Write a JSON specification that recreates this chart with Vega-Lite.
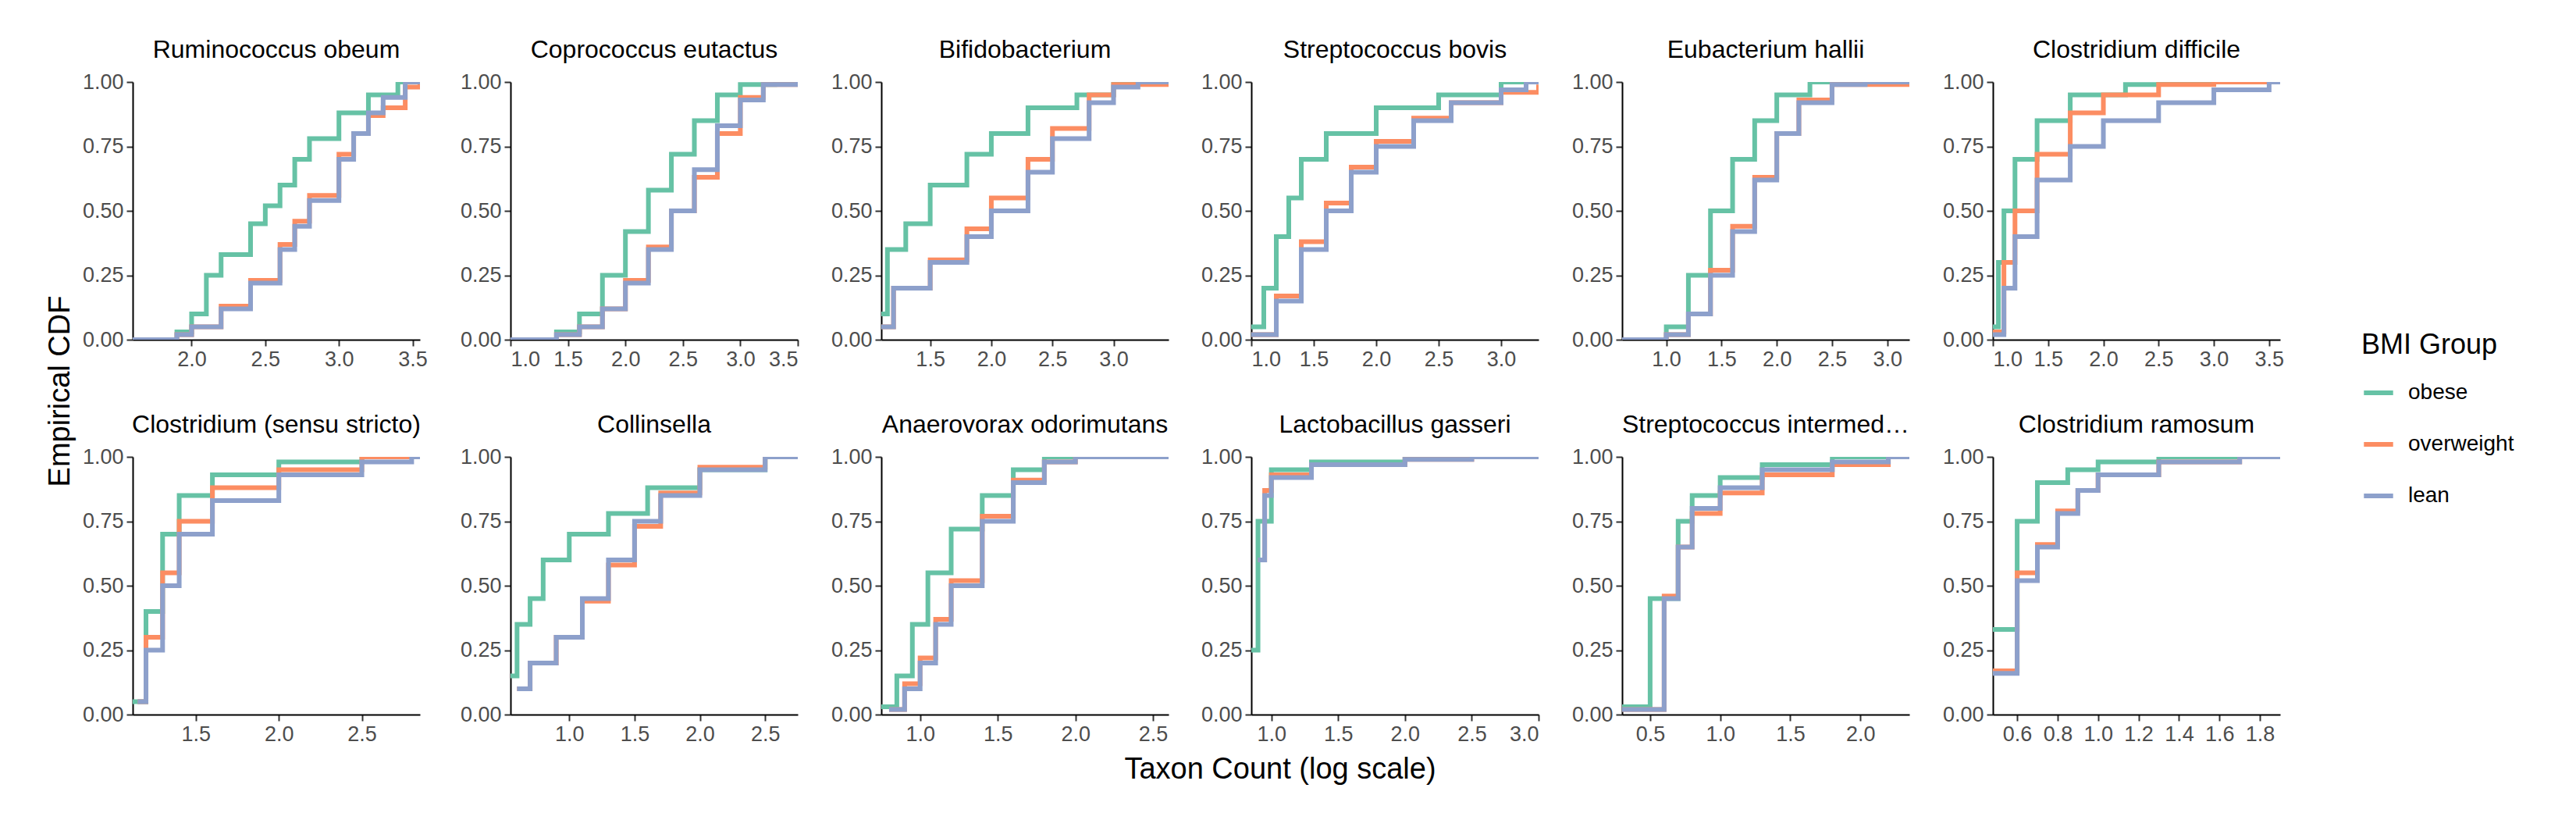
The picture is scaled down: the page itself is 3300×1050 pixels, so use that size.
{
  "$schema": "https://vega.github.io/schema/vega-lite/v6.json",
  "background": "white",
  "padding": {"left": 58, "top": 48, "right": 10, "bottom": 10},
  "title": {"text": "Taxon Count (log scale)", "orient": "bottom", "anchor": "middle", "fontSize": 38, "font": "Liberation Sans", "fontWeight": "normal", "color": "black", "offset": 14},
  "data": {"values": [
    {"p":"Ruminococcus obeum","g":"obese","x":1.6,"y":0},{"p":"Ruminococcus obeum","g":"obese","x":1.9,"y":0.03},{"p":"Ruminococcus obeum","g":"obese","x":2.0,"y":0.1},{"p":"Ruminococcus obeum","g":"obese","x":2.1,"y":0.25},{"p":"Ruminococcus obeum","g":"obese","x":2.2,"y":0.33},{"p":"Ruminococcus obeum","g":"obese","x":2.4,"y":0.45},{"p":"Ruminococcus obeum","g":"obese","x":2.5,"y":0.52},{"p":"Ruminococcus obeum","g":"obese","x":2.6,"y":0.6},{"p":"Ruminococcus obeum","g":"obese","x":2.7,"y":0.7},{"p":"Ruminococcus obeum","g":"obese","x":2.8,"y":0.78},{"p":"Ruminococcus obeum","g":"obese","x":3.0,"y":0.88},{"p":"Ruminococcus obeum","g":"obese","x":3.2,"y":0.95},{"p":"Ruminococcus obeum","g":"obese","x":3.4,"y":1},{"p":"Ruminococcus obeum","g":"obese","x":3.55,"y":1},
    {"p":"Ruminococcus obeum","g":"overweight","x":1.6,"y":0},{"p":"Ruminococcus obeum","g":"overweight","x":1.9,"y":0.02},{"p":"Ruminococcus obeum","g":"overweight","x":2.0,"y":0.05},{"p":"Ruminococcus obeum","g":"overweight","x":2.2,"y":0.13},{"p":"Ruminococcus obeum","g":"overweight","x":2.4,"y":0.23},{"p":"Ruminococcus obeum","g":"overweight","x":2.6,"y":0.37},{"p":"Ruminococcus obeum","g":"overweight","x":2.7,"y":0.46},{"p":"Ruminococcus obeum","g":"overweight","x":2.8,"y":0.56},{"p":"Ruminococcus obeum","g":"overweight","x":3.0,"y":0.72},{"p":"Ruminococcus obeum","g":"overweight","x":3.1,"y":0.8},{"p":"Ruminococcus obeum","g":"overweight","x":3.2,"y":0.87},{"p":"Ruminococcus obeum","g":"overweight","x":3.3,"y":0.9},{"p":"Ruminococcus obeum","g":"overweight","x":3.45,"y":0.98},{"p":"Ruminococcus obeum","g":"overweight","x":3.55,"y":1},
    {"p":"Ruminococcus obeum","g":"lean","x":1.6,"y":0},{"p":"Ruminococcus obeum","g":"lean","x":1.9,"y":0.02},{"p":"Ruminococcus obeum","g":"lean","x":2.0,"y":0.05},{"p":"Ruminococcus obeum","g":"lean","x":2.2,"y":0.12},{"p":"Ruminococcus obeum","g":"lean","x":2.4,"y":0.22},{"p":"Ruminococcus obeum","g":"lean","x":2.6,"y":0.35},{"p":"Ruminococcus obeum","g":"lean","x":2.7,"y":0.44},{"p":"Ruminococcus obeum","g":"lean","x":2.8,"y":0.54},{"p":"Ruminococcus obeum","g":"lean","x":3.0,"y":0.7},{"p":"Ruminococcus obeum","g":"lean","x":3.1,"y":0.8},{"p":"Ruminococcus obeum","g":"lean","x":3.2,"y":0.88},{"p":"Ruminococcus obeum","g":"lean","x":3.3,"y":0.94},{"p":"Ruminococcus obeum","g":"lean","x":3.45,"y":1},{"p":"Ruminococcus obeum","g":"lean","x":3.55,"y":1},

    {"p":"Coprococcus eutactus","g":"obese","x":1.0,"y":0},{"p":"Coprococcus eutactus","g":"obese","x":1.4,"y":0.03},{"p":"Coprococcus eutactus","g":"obese","x":1.6,"y":0.1},{"p":"Coprococcus eutactus","g":"obese","x":1.8,"y":0.25},{"p":"Coprococcus eutactus","g":"obese","x":2.0,"y":0.42},{"p":"Coprococcus eutactus","g":"obese","x":2.2,"y":0.58},{"p":"Coprococcus eutactus","g":"obese","x":2.4,"y":0.72},{"p":"Coprococcus eutactus","g":"obese","x":2.6,"y":0.85},{"p":"Coprococcus eutactus","g":"obese","x":2.8,"y":0.95},{"p":"Coprococcus eutactus","g":"obese","x":3.0,"y":0.99},{"p":"Coprococcus eutactus","g":"obese","x":3.3,"y":1},{"p":"Coprococcus eutactus","g":"obese","x":3.5,"y":1},
    {"p":"Coprococcus eutactus","g":"overweight","x":1.0,"y":0},{"p":"Coprococcus eutactus","g":"overweight","x":1.4,"y":0.02},{"p":"Coprococcus eutactus","g":"overweight","x":1.6,"y":0.05},{"p":"Coprococcus eutactus","g":"overweight","x":1.8,"y":0.12},{"p":"Coprococcus eutactus","g":"overweight","x":2.0,"y":0.23},{"p":"Coprococcus eutactus","g":"overweight","x":2.2,"y":0.36},{"p":"Coprococcus eutactus","g":"overweight","x":2.4,"y":0.5},{"p":"Coprococcus eutactus","g":"overweight","x":2.6,"y":0.63},{"p":"Coprococcus eutactus","g":"overweight","x":2.8,"y":0.8},{"p":"Coprococcus eutactus","g":"overweight","x":3.0,"y":0.94},{"p":"Coprococcus eutactus","g":"overweight","x":3.2,"y":0.99},{"p":"Coprococcus eutactus","g":"overweight","x":3.5,"y":1},
    {"p":"Coprococcus eutactus","g":"lean","x":1.0,"y":0},{"p":"Coprococcus eutactus","g":"lean","x":1.4,"y":0.02},{"p":"Coprococcus eutactus","g":"lean","x":1.6,"y":0.05},{"p":"Coprococcus eutactus","g":"lean","x":1.8,"y":0.12},{"p":"Coprococcus eutactus","g":"lean","x":2.0,"y":0.22},{"p":"Coprococcus eutactus","g":"lean","x":2.2,"y":0.35},{"p":"Coprococcus eutactus","g":"lean","x":2.4,"y":0.5},{"p":"Coprococcus eutactus","g":"lean","x":2.6,"y":0.66},{"p":"Coprococcus eutactus","g":"lean","x":2.8,"y":0.83},{"p":"Coprococcus eutactus","g":"lean","x":3.0,"y":0.93},{"p":"Coprococcus eutactus","g":"lean","x":3.2,"y":0.99},{"p":"Coprococcus eutactus","g":"lean","x":3.5,"y":1},

    {"p":"Bifidobacterium","g":"obese","x":1.1,"y":0.1},{"p":"Bifidobacterium","g":"obese","x":1.15,"y":0.35},{"p":"Bifidobacterium","g":"obese","x":1.3,"y":0.45},{"p":"Bifidobacterium","g":"obese","x":1.5,"y":0.6},{"p":"Bifidobacterium","g":"obese","x":1.8,"y":0.72},{"p":"Bifidobacterium","g":"obese","x":2.0,"y":0.8},{"p":"Bifidobacterium","g":"obese","x":2.3,"y":0.9},{"p":"Bifidobacterium","g":"obese","x":2.7,"y":0.95},{"p":"Bifidobacterium","g":"obese","x":3.0,"y":1},{"p":"Bifidobacterium","g":"obese","x":3.45,"y":1},
    {"p":"Bifidobacterium","g":"overweight","x":1.1,"y":0.05},{"p":"Bifidobacterium","g":"overweight","x":1.2,"y":0.2},{"p":"Bifidobacterium","g":"overweight","x":1.5,"y":0.31},{"p":"Bifidobacterium","g":"overweight","x":1.8,"y":0.43},{"p":"Bifidobacterium","g":"overweight","x":2.0,"y":0.55},{"p":"Bifidobacterium","g":"overweight","x":2.3,"y":0.7},{"p":"Bifidobacterium","g":"overweight","x":2.5,"y":0.82},{"p":"Bifidobacterium","g":"overweight","x":2.8,"y":0.95},{"p":"Bifidobacterium","g":"overweight","x":3.0,"y":0.99},{"p":"Bifidobacterium","g":"overweight","x":3.45,"y":1},
    {"p":"Bifidobacterium","g":"lean","x":1.1,"y":0.05},{"p":"Bifidobacterium","g":"lean","x":1.2,"y":0.2},{"p":"Bifidobacterium","g":"lean","x":1.5,"y":0.3},{"p":"Bifidobacterium","g":"lean","x":1.8,"y":0.4},{"p":"Bifidobacterium","g":"lean","x":2.0,"y":0.5},{"p":"Bifidobacterium","g":"lean","x":2.3,"y":0.65},{"p":"Bifidobacterium","g":"lean","x":2.5,"y":0.78},{"p":"Bifidobacterium","g":"lean","x":2.8,"y":0.92},{"p":"Bifidobacterium","g":"lean","x":3.0,"y":0.98},{"p":"Bifidobacterium","g":"lean","x":3.2,"y":1},{"p":"Bifidobacterium","g":"lean","x":3.45,"y":1},

    {"p":"Streptococcus bovis","g":"obese","x":1.0,"y":0.05},{"p":"Streptococcus bovis","g":"obese","x":1.1,"y":0.2},{"p":"Streptococcus bovis","g":"obese","x":1.2,"y":0.4},{"p":"Streptococcus bovis","g":"obese","x":1.3,"y":0.55},{"p":"Streptococcus bovis","g":"obese","x":1.4,"y":0.7},{"p":"Streptococcus bovis","g":"obese","x":1.6,"y":0.8},{"p":"Streptococcus bovis","g":"obese","x":2.0,"y":0.9},{"p":"Streptococcus bovis","g":"obese","x":2.5,"y":0.95},{"p":"Streptococcus bovis","g":"obese","x":3.0,"y":1},{"p":"Streptococcus bovis","g":"obese","x":3.3,"y":1},
    {"p":"Streptococcus bovis","g":"overweight","x":1.0,"y":0.02},{"p":"Streptococcus bovis","g":"overweight","x":1.2,"y":0.17},{"p":"Streptococcus bovis","g":"overweight","x":1.4,"y":0.38},{"p":"Streptococcus bovis","g":"overweight","x":1.6,"y":0.53},{"p":"Streptococcus bovis","g":"overweight","x":1.8,"y":0.67},{"p":"Streptococcus bovis","g":"overweight","x":2.0,"y":0.77},{"p":"Streptococcus bovis","g":"overweight","x":2.3,"y":0.86},{"p":"Streptococcus bovis","g":"overweight","x":2.6,"y":0.92},{"p":"Streptococcus bovis","g":"overweight","x":3.0,"y":0.96},{"p":"Streptococcus bovis","g":"overweight","x":3.3,"y":0.99},
    {"p":"Streptococcus bovis","g":"lean","x":1.0,"y":0.02},{"p":"Streptococcus bovis","g":"lean","x":1.2,"y":0.15},{"p":"Streptococcus bovis","g":"lean","x":1.4,"y":0.35},{"p":"Streptococcus bovis","g":"lean","x":1.6,"y":0.5},{"p":"Streptococcus bovis","g":"lean","x":1.8,"y":0.65},{"p":"Streptococcus bovis","g":"lean","x":2.0,"y":0.75},{"p":"Streptococcus bovis","g":"lean","x":2.3,"y":0.85},{"p":"Streptococcus bovis","g":"lean","x":2.6,"y":0.92},{"p":"Streptococcus bovis","g":"lean","x":3.0,"y":0.97},{"p":"Streptococcus bovis","g":"lean","x":3.2,"y":1},{"p":"Streptococcus bovis","g":"lean","x":3.3,"y":1},

    {"p":"Eubacterium hallii","g":"obese","x":0.6,"y":0},{"p":"Eubacterium hallii","g":"obese","x":1.0,"y":0.05},{"p":"Eubacterium hallii","g":"obese","x":1.2,"y":0.25},{"p":"Eubacterium hallii","g":"obese","x":1.4,"y":0.5},{"p":"Eubacterium hallii","g":"obese","x":1.6,"y":0.7},{"p":"Eubacterium hallii","g":"obese","x":1.8,"y":0.85},{"p":"Eubacterium hallii","g":"obese","x":2.0,"y":0.95},{"p":"Eubacterium hallii","g":"obese","x":2.3,"y":1},{"p":"Eubacterium hallii","g":"obese","x":3.2,"y":1},
    {"p":"Eubacterium hallii","g":"overweight","x":0.6,"y":0},{"p":"Eubacterium hallii","g":"overweight","x":1.0,"y":0.02},{"p":"Eubacterium hallii","g":"overweight","x":1.2,"y":0.1},{"p":"Eubacterium hallii","g":"overweight","x":1.4,"y":0.27},{"p":"Eubacterium hallii","g":"overweight","x":1.6,"y":0.44},{"p":"Eubacterium hallii","g":"overweight","x":1.8,"y":0.63},{"p":"Eubacterium hallii","g":"overweight","x":2.0,"y":0.8},{"p":"Eubacterium hallii","g":"overweight","x":2.2,"y":0.93},{"p":"Eubacterium hallii","g":"overweight","x":2.5,"y":0.99},{"p":"Eubacterium hallii","g":"overweight","x":3.2,"y":1},
    {"p":"Eubacterium hallii","g":"lean","x":0.6,"y":0},{"p":"Eubacterium hallii","g":"lean","x":1.0,"y":0.02},{"p":"Eubacterium hallii","g":"lean","x":1.2,"y":0.1},{"p":"Eubacterium hallii","g":"lean","x":1.4,"y":0.25},{"p":"Eubacterium hallii","g":"lean","x":1.6,"y":0.42},{"p":"Eubacterium hallii","g":"lean","x":1.8,"y":0.62},{"p":"Eubacterium hallii","g":"lean","x":2.0,"y":0.8},{"p":"Eubacterium hallii","g":"lean","x":2.2,"y":0.92},{"p":"Eubacterium hallii","g":"lean","x":2.5,"y":0.99},{"p":"Eubacterium hallii","g":"lean","x":2.8,"y":1},{"p":"Eubacterium hallii","g":"lean","x":3.2,"y":1},

    {"p":"Clostridium difficile","g":"obese","x":1.0,"y":0.05},{"p":"Clostridium difficile","g":"obese","x":1.05,"y":0.3},{"p":"Clostridium difficile","g":"obese","x":1.1,"y":0.5},{"p":"Clostridium difficile","g":"obese","x":1.2,"y":0.7},{"p":"Clostridium difficile","g":"obese","x":1.4,"y":0.85},{"p":"Clostridium difficile","g":"obese","x":1.7,"y":0.95},{"p":"Clostridium difficile","g":"obese","x":2.2,"y":0.99},{"p":"Clostridium difficile","g":"obese","x":2.5,"y":1},{"p":"Clostridium difficile","g":"obese","x":3.6,"y":1},
    {"p":"Clostridium difficile","g":"overweight","x":1.0,"y":0.03},{"p":"Clostridium difficile","g":"overweight","x":1.1,"y":0.3},{"p":"Clostridium difficile","g":"overweight","x":1.2,"y":0.5},{"p":"Clostridium difficile","g":"overweight","x":1.4,"y":0.72},{"p":"Clostridium difficile","g":"overweight","x":1.7,"y":0.88},{"p":"Clostridium difficile","g":"overweight","x":2.0,"y":0.95},{"p":"Clostridium difficile","g":"overweight","x":2.5,"y":0.99},{"p":"Clostridium difficile","g":"overweight","x":3.0,"y":1},{"p":"Clostridium difficile","g":"overweight","x":3.6,"y":1},
    {"p":"Clostridium difficile","g":"lean","x":1.0,"y":0.02},{"p":"Clostridium difficile","g":"lean","x":1.1,"y":0.2},{"p":"Clostridium difficile","g":"lean","x":1.2,"y":0.4},{"p":"Clostridium difficile","g":"lean","x":1.4,"y":0.62},{"p":"Clostridium difficile","g":"lean","x":1.7,"y":0.75},{"p":"Clostridium difficile","g":"lean","x":2.0,"y":0.85},{"p":"Clostridium difficile","g":"lean","x":2.5,"y":0.92},{"p":"Clostridium difficile","g":"lean","x":3.0,"y":0.97},{"p":"Clostridium difficile","g":"lean","x":3.5,"y":1},{"p":"Clostridium difficile","g":"lean","x":3.6,"y":1},

    {"p":"Clostridium (sensu stricto)","g":"obese","x":1.12,"y":0.05},{"p":"Clostridium (sensu stricto)","g":"obese","x":1.2,"y":0.4},{"p":"Clostridium (sensu stricto)","g":"obese","x":1.3,"y":0.7},{"p":"Clostridium (sensu stricto)","g":"obese","x":1.4,"y":0.85},{"p":"Clostridium (sensu stricto)","g":"obese","x":1.6,"y":0.93},{"p":"Clostridium (sensu stricto)","g":"obese","x":2.0,"y":0.98},{"p":"Clostridium (sensu stricto)","g":"obese","x":2.5,"y":1},{"p":"Clostridium (sensu stricto)","g":"obese","x":2.85,"y":1},
    {"p":"Clostridium (sensu stricto)","g":"overweight","x":1.15,"y":0.05},{"p":"Clostridium (sensu stricto)","g":"overweight","x":1.2,"y":0.3},{"p":"Clostridium (sensu stricto)","g":"overweight","x":1.3,"y":0.55},{"p":"Clostridium (sensu stricto)","g":"overweight","x":1.4,"y":0.75},{"p":"Clostridium (sensu stricto)","g":"overweight","x":1.6,"y":0.88},{"p":"Clostridium (sensu stricto)","g":"overweight","x":2.0,"y":0.95},{"p":"Clostridium (sensu stricto)","g":"overweight","x":2.5,"y":1},{"p":"Clostridium (sensu stricto)","g":"overweight","x":2.85,"y":1},
    {"p":"Clostridium (sensu stricto)","g":"lean","x":1.15,"y":0.05},{"p":"Clostridium (sensu stricto)","g":"lean","x":1.2,"y":0.25},{"p":"Clostridium (sensu stricto)","g":"lean","x":1.3,"y":0.5},{"p":"Clostridium (sensu stricto)","g":"lean","x":1.4,"y":0.7},{"p":"Clostridium (sensu stricto)","g":"lean","x":1.6,"y":0.83},{"p":"Clostridium (sensu stricto)","g":"lean","x":2.0,"y":0.93},{"p":"Clostridium (sensu stricto)","g":"lean","x":2.5,"y":0.98},{"p":"Clostridium (sensu stricto)","g":"lean","x":2.8,"y":1},{"p":"Clostridium (sensu stricto)","g":"lean","x":2.85,"y":1},

    {"p":"Collinsella","g":"obese","x":0.55,"y":0.15},{"p":"Collinsella","g":"obese","x":0.6,"y":0.35},{"p":"Collinsella","g":"obese","x":0.7,"y":0.45},{"p":"Collinsella","g":"obese","x":0.8,"y":0.6},{"p":"Collinsella","g":"obese","x":1.0,"y":0.7},{"p":"Collinsella","g":"obese","x":1.3,"y":0.78},{"p":"Collinsella","g":"obese","x":1.6,"y":0.88},{"p":"Collinsella","g":"obese","x":2.0,"y":0.95},{"p":"Collinsella","g":"obese","x":2.5,"y":1},{"p":"Collinsella","g":"obese","x":2.75,"y":1},
    {"p":"Collinsella","g":"overweight","x":0.6,"y":0.1},{"p":"Collinsella","g":"overweight","x":0.7,"y":0.2},{"p":"Collinsella","g":"overweight","x":0.9,"y":0.3},{"p":"Collinsella","g":"overweight","x":1.1,"y":0.44},{"p":"Collinsella","g":"overweight","x":1.3,"y":0.58},{"p":"Collinsella","g":"overweight","x":1.5,"y":0.73},{"p":"Collinsella","g":"overweight","x":1.7,"y":0.86},{"p":"Collinsella","g":"overweight","x":2.0,"y":0.96},{"p":"Collinsella","g":"overweight","x":2.5,"y":1},{"p":"Collinsella","g":"overweight","x":2.75,"y":1},
    {"p":"Collinsella","g":"lean","x":0.6,"y":0.1},{"p":"Collinsella","g":"lean","x":0.7,"y":0.2},{"p":"Collinsella","g":"lean","x":0.9,"y":0.3},{"p":"Collinsella","g":"lean","x":1.1,"y":0.45},{"p":"Collinsella","g":"lean","x":1.3,"y":0.6},{"p":"Collinsella","g":"lean","x":1.5,"y":0.75},{"p":"Collinsella","g":"lean","x":1.7,"y":0.85},{"p":"Collinsella","g":"lean","x":2.0,"y":0.95},{"p":"Collinsella","g":"lean","x":2.5,"y":1},{"p":"Collinsella","g":"lean","x":2.75,"y":1},

    {"p":"Anaerovorax odorimutans","g":"obese","x":0.75,"y":0.03},{"p":"Anaerovorax odorimutans","g":"obese","x":0.85,"y":0.15},{"p":"Anaerovorax odorimutans","g":"obese","x":0.95,"y":0.35},{"p":"Anaerovorax odorimutans","g":"obese","x":1.05,"y":0.55},{"p":"Anaerovorax odorimutans","g":"obese","x":1.2,"y":0.72},{"p":"Anaerovorax odorimutans","g":"obese","x":1.4,"y":0.85},{"p":"Anaerovorax odorimutans","g":"obese","x":1.6,"y":0.95},{"p":"Anaerovorax odorimutans","g":"obese","x":1.8,"y":1},{"p":"Anaerovorax odorimutans","g":"obese","x":2.6,"y":1},
    {"p":"Anaerovorax odorimutans","g":"overweight","x":0.8,"y":0.02},{"p":"Anaerovorax odorimutans","g":"overweight","x":0.9,"y":0.12},{"p":"Anaerovorax odorimutans","g":"overweight","x":1.0,"y":0.22},{"p":"Anaerovorax odorimutans","g":"overweight","x":1.1,"y":0.37},{"p":"Anaerovorax odorimutans","g":"overweight","x":1.2,"y":0.52},{"p":"Anaerovorax odorimutans","g":"overweight","x":1.4,"y":0.77},{"p":"Anaerovorax odorimutans","g":"overweight","x":1.6,"y":0.91},{"p":"Anaerovorax odorimutans","g":"overweight","x":1.8,"y":0.98},{"p":"Anaerovorax odorimutans","g":"overweight","x":2.0,"y":1},{"p":"Anaerovorax odorimutans","g":"overweight","x":2.6,"y":1},
    {"p":"Anaerovorax odorimutans","g":"lean","x":0.8,"y":0.02},{"p":"Anaerovorax odorimutans","g":"lean","x":0.9,"y":0.1},{"p":"Anaerovorax odorimutans","g":"lean","x":1.0,"y":0.2},{"p":"Anaerovorax odorimutans","g":"lean","x":1.1,"y":0.35},{"p":"Anaerovorax odorimutans","g":"lean","x":1.2,"y":0.5},{"p":"Anaerovorax odorimutans","g":"lean","x":1.4,"y":0.75},{"p":"Anaerovorax odorimutans","g":"lean","x":1.6,"y":0.9},{"p":"Anaerovorax odorimutans","g":"lean","x":1.8,"y":0.98},{"p":"Anaerovorax odorimutans","g":"lean","x":2.0,"y":1},{"p":"Anaerovorax odorimutans","g":"lean","x":2.6,"y":1},

    {"p":"Lactobacillus gasseri","g":"obese","x":0.85,"y":0.25},{"p":"Lactobacillus gasseri","g":"obese","x":0.9,"y":0.75},{"p":"Lactobacillus gasseri","g":"obese","x":1.0,"y":0.95},{"p":"Lactobacillus gasseri","g":"obese","x":1.3,"y":0.98},{"p":"Lactobacillus gasseri","g":"obese","x":2.0,"y":1},{"p":"Lactobacillus gasseri","g":"obese","x":3.0,"y":1},
    {"p":"Lactobacillus gasseri","g":"overweight","x":0.9,"y":0.6},{"p":"Lactobacillus gasseri","g":"overweight","x":0.95,"y":0.87},{"p":"Lactobacillus gasseri","g":"overweight","x":1.0,"y":0.93},{"p":"Lactobacillus gasseri","g":"overweight","x":1.3,"y":0.97},{"p":"Lactobacillus gasseri","g":"overweight","x":2.0,"y":0.99},{"p":"Lactobacillus gasseri","g":"overweight","x":2.5,"y":1},{"p":"Lactobacillus gasseri","g":"overweight","x":3.0,"y":1},
    {"p":"Lactobacillus gasseri","g":"lean","x":0.9,"y":0.6},{"p":"Lactobacillus gasseri","g":"lean","x":0.95,"y":0.85},{"p":"Lactobacillus gasseri","g":"lean","x":1.0,"y":0.92},{"p":"Lactobacillus gasseri","g":"lean","x":1.3,"y":0.97},{"p":"Lactobacillus gasseri","g":"lean","x":2.0,"y":0.99},{"p":"Lactobacillus gasseri","g":"lean","x":2.5,"y":1},{"p":"Lactobacillus gasseri","g":"lean","x":3.0,"y":1},

    {"p":"Streptococcus intermedius","g":"obese","x":0.3,"y":0.03},{"p":"Streptococcus intermedius","g":"obese","x":0.5,"y":0.45},{"p":"Streptococcus intermedius","g":"obese","x":0.7,"y":0.75},{"p":"Streptococcus intermedius","g":"obese","x":0.8,"y":0.85},{"p":"Streptococcus intermedius","g":"obese","x":1.0,"y":0.92},{"p":"Streptococcus intermedius","g":"obese","x":1.3,"y":0.97},{"p":"Streptococcus intermedius","g":"obese","x":1.8,"y":1},{"p":"Streptococcus intermedius","g":"obese","x":2.35,"y":1},
    {"p":"Streptococcus intermedius","g":"overweight","x":0.3,"y":0.02},{"p":"Streptococcus intermedius","g":"overweight","x":0.6,"y":0.46},{"p":"Streptococcus intermedius","g":"overweight","x":0.7,"y":0.65},{"p":"Streptococcus intermedius","g":"overweight","x":0.8,"y":0.78},{"p":"Streptococcus intermedius","g":"overweight","x":1.0,"y":0.86},{"p":"Streptococcus intermedius","g":"overweight","x":1.3,"y":0.93},{"p":"Streptococcus intermedius","g":"overweight","x":1.8,"y":0.97},{"p":"Streptococcus intermedius","g":"overweight","x":2.2,"y":1},{"p":"Streptococcus intermedius","g":"overweight","x":2.35,"y":1},
    {"p":"Streptococcus intermedius","g":"lean","x":0.3,"y":0.02},{"p":"Streptococcus intermedius","g":"lean","x":0.6,"y":0.45},{"p":"Streptococcus intermedius","g":"lean","x":0.7,"y":0.65},{"p":"Streptococcus intermedius","g":"lean","x":0.8,"y":0.8},{"p":"Streptococcus intermedius","g":"lean","x":1.0,"y":0.88},{"p":"Streptococcus intermedius","g":"lean","x":1.3,"y":0.95},{"p":"Streptococcus intermedius","g":"lean","x":1.8,"y":0.98},{"p":"Streptococcus intermedius","g":"lean","x":2.2,"y":1},{"p":"Streptococcus intermedius","g":"lean","x":2.35,"y":1},

    {"p":"Clostridium ramosum","g":"obese","x":0.48,"y":0.33},{"p":"Clostridium ramosum","g":"obese","x":0.6,"y":0.75},{"p":"Clostridium ramosum","g":"obese","x":0.7,"y":0.9},{"p":"Clostridium ramosum","g":"obese","x":0.85,"y":0.95},{"p":"Clostridium ramosum","g":"obese","x":1.0,"y":0.98},{"p":"Clostridium ramosum","g":"obese","x":1.3,"y":1},{"p":"Clostridium ramosum","g":"obese","x":1.9,"y":1},
    {"p":"Clostridium ramosum","g":"overweight","x":0.48,"y":0.17},{"p":"Clostridium ramosum","g":"overweight","x":0.6,"y":0.55},{"p":"Clostridium ramosum","g":"overweight","x":0.7,"y":0.66},{"p":"Clostridium ramosum","g":"overweight","x":0.8,"y":0.79},{"p":"Clostridium ramosum","g":"overweight","x":0.9,"y":0.87},{"p":"Clostridium ramosum","g":"overweight","x":1.0,"y":0.93},{"p":"Clostridium ramosum","g":"overweight","x":1.3,"y":0.98},{"p":"Clostridium ramosum","g":"overweight","x":1.7,"y":1},{"p":"Clostridium ramosum","g":"overweight","x":1.9,"y":1},
    {"p":"Clostridium ramosum","g":"lean","x":0.48,"y":0.16},{"p":"Clostridium ramosum","g":"lean","x":0.6,"y":0.52},{"p":"Clostridium ramosum","g":"lean","x":0.7,"y":0.65},{"p":"Clostridium ramosum","g":"lean","x":0.8,"y":0.78},{"p":"Clostridium ramosum","g":"lean","x":0.9,"y":0.87},{"p":"Clostridium ramosum","g":"lean","x":1.0,"y":0.93},{"p":"Clostridium ramosum","g":"lean","x":1.3,"y":0.98},{"p":"Clostridium ramosum","g":"lean","x":1.7,"y":1},{"p":"Clostridium ramosum","g":"lean","x":1.9,"y":1}
  ]},
  "facet": {
    "field": "p",
    "type": "nominal",
    "sort": ["Ruminococcus obeum","Coprococcus eutactus","Bifidobacterium","Streptococcus bovis","Eubacterium hallii","Clostridium difficile","Clostridium (sensu stricto)","Collinsella","Anaerovorax odorimutans","Lactobacillus gasseri","Streptococcus intermedius","Clostridium ramosum"],
    "header": {"title": "Empirical CDF", "titleOrient": "left", "titleFontSize": 38, "titleFont": "Liberation Sans", "titleFontWeight": "normal", "titleColor": "black", "titlePadding": 8,
      "labelFontSize": 32, "labelFont": "Liberation Sans", "labelColor": "black", "labelLimit": 370, "labelPadding": 10}
  },
  "columns": 6,
  "spacing": {"column": 41, "row": 55},
  "resolve": {"scale": {"x": "independent"}, "axis": {"y": "independent"}},
  "spec": {
    "width": 368,
    "height": 330,
    "mark": {"type": "line", "interpolate": "step-after", "strokeWidth": 6, "clip": true},
    "encoding": {
      "x": {"field": "x", "type": "quantitative", "scale": {"zero": false, "nice": false},
        "axis": {"title": null, "tickCount": 5, "format": ".1f"}},
      "y": {"field": "y", "type": "quantitative", "scale": {"domain": [0, 1], "nice": false},
        "axis": {"title": null, "values": [0, 0.25, 0.5, 0.75, 1], "format": ".2f"}},
      "color": {"field": "g", "type": "nominal", "sort": ["obese","overweight","lean"],
        "scale": {"domain": ["obese","overweight","lean"], "range": ["#66C2A5","#FC8D62","#8DA0CB"]},
        "legend": {"title": "BMI Group", "orient": "none", "legendX": 2855, "legendY": 320, "symbolType": "stroke", "symbolStrokeWidth": 6, "symbolSize": 1400,
          "titleFontSize": 36, "titleFont": "Liberation Sans", "titleFontWeight": "normal", "titleColor": "black", "titlePadding": 20,
          "labelFontSize": 28, "labelFont": "Liberation Sans", "labelColor": "black", "rowPadding": 30, "labelOffset": 16}}
    }
  },
  "config": {
    "view": {"stroke": null},
    "axis": {"grid": false, "domainColor": "black", "domainWidth": 2, "tickColor": "#333", "tickWidth": 2, "tickSize": 8,
      "labelFontSize": 27, "labelFont": "Liberation Sans", "labelColor": "#4d4d4d", "labelPadding": 4}
  }
}
